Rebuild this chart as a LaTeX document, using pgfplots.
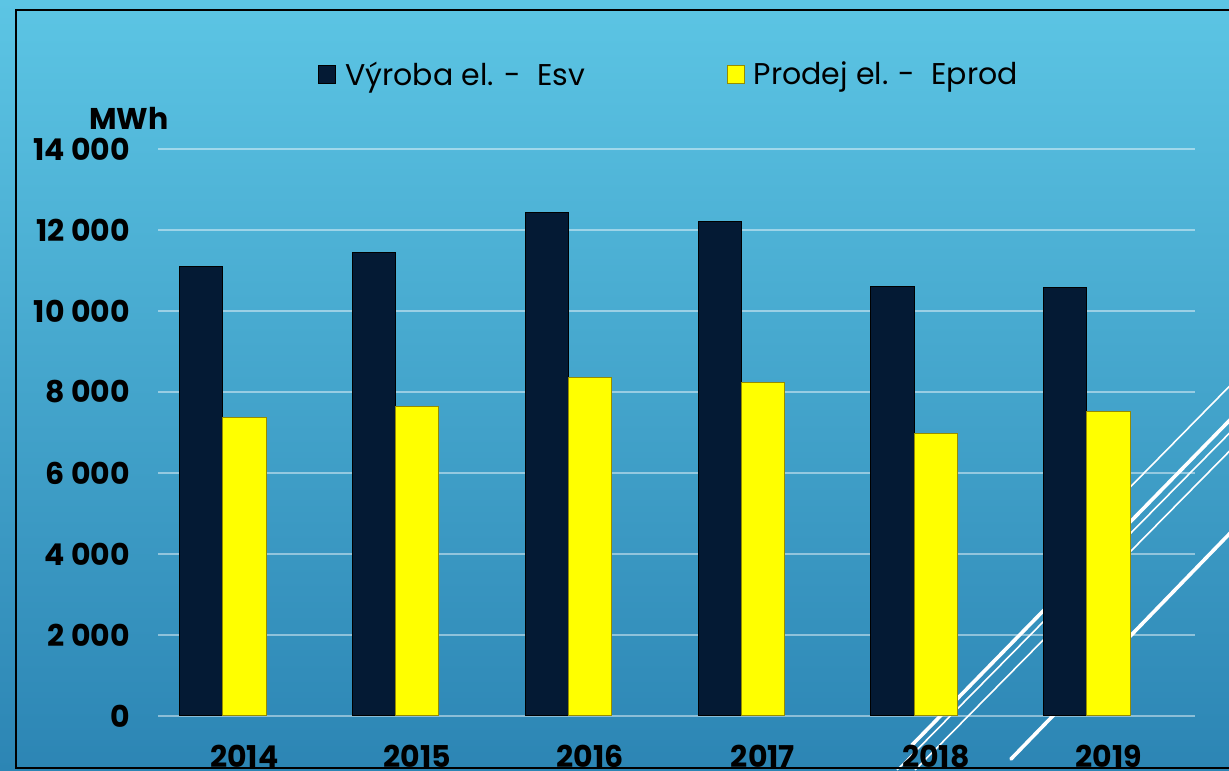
\documentclass[border=0pt]{standalone}
\usepackage{pgfplots}
\pgfplotsset{compat=1.18}
\usepackage{fontspec}
\setmainfont{Poppins}
\definecolor{bgtop}{RGB}{92,197,228}
\definecolor{bgbot}{RGB}{44,133,180}
\definecolor{navybar}{RGB}{4,26,52}
\definecolor{yel}{RGB}{255,255,0}
\definecolor{yeledge}{RGB}{150,140,0}
\begin{document}
\begin{tikzpicture}[x=1pt,y=1pt]
\useasboundingbox (0,0) rectangle (614.5,385);
\clip (0,0) rectangle (614.5,385);
\shade[top color=bgtop, bottom color=bgbot] (0,0) rectangle (614.5,385);
% slide decoration
\draw[white, line width=0.8pt] (545,121) -- (635,212.5);
\draw[white, line width=1.8pt, line cap=round] (456,12.5) -- (635,195.5);
\draw[white, line width=0.8pt] (448.5,0) -- (635,189);
\draw[white, line width=0.8pt] (457.5,0) -- (635,180);
\draw[white, line width=1.8pt, line cap=round] (505.5,5.5) -- (635,139);
% frame
\draw[black, line width=1pt] (640,1) -- (8,1) -- (8,380) -- (640,380);
\begin{axis}[
  at={(79pt,27pt)}, anchor=south west, scale only axis,
  width=518.5pt, height=283.5pt,
  xmin=-0.5, xmax=5.5, ymin=0, ymax=14000,
  ybar, bar width=0.25,
  xtick={0,1,2,3,4,5}, xticklabels={2014,2015,2016,2017,2018,2019},
  ytick={0,2000,4000,6000,8000,10000,12000,14000},
  ymajorgrids, grid style={white, opacity=0.45, line width=1pt},
  axis line style={draw=none}, major tick length=0pt,
  tick label style={font=\bfseries\fontsize{15}{18}\selectfont, text=black},
  /pgf/number format/assume math mode=true,
  /pgf/number format/1000 sep={\hspace{0.22em}},
  scaled y ticks=false,
  xticklabel style={yshift=-11pt},
  yticklabel style={xshift=-10.5pt},
  legend columns=2,
  legend style={at={(axis description cs:0.1543,1.1305)}, anchor=west,
    draw=none, fill=none, inner sep=0pt, nodes={inner sep=0pt},
    font=\fontsize{15}{18}\selectfont, text=black,
    /tikz/every odd column/.append style={column sep=4.5pt},
    /tikz/every even column/.append style={column sep=71pt}},
  legend image code/.code={\draw[#1] (0pt,-4.5pt) rectangle (8.5pt,4.5pt);},
]
\addplot[fill=navybar, draw=black, line width=0.5pt, bar shift=-0.25] coordinates
  {(0,11110) (1,11450) (2,12430) (3,12220) (4,10600) (5,10570)};
\addlegendentry{Výroba el. -\ \ Esv}
\addplot[fill=yel, draw=yeledge, line width=0.5pt, bar shift=0] coordinates
  {(0,7370) (1,7630) (2,8360) (3,8230) (4,6980) (5,7510)};
\addlegendentry{Prodej el. -\ \ Eprod}
\end{axis}
\node[font=\bfseries\fontsize{15}{18}\selectfont, text=black] at (64.5,326) {MWh};
\end{tikzpicture}
\end{document}
